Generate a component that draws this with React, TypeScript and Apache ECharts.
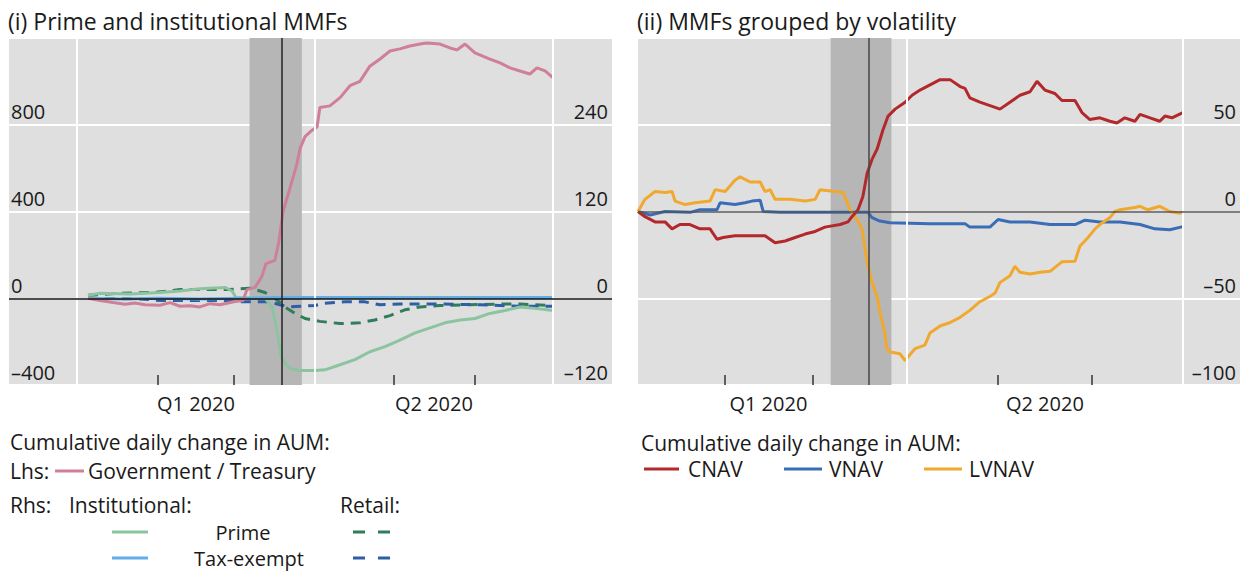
import React, { useEffect, useRef } from "react";
import * as echarts from "echarts";

const FONT = '"Open Sans", "Noto Sans", sans-serif';
const TEXT = "#1a1a1a";

// x positions are days counted from 1 January 2020
const monthStartDays = [0, 31, 60, 91, 121, 152, 182];
const quarterStartDays = [0, 91, 182];
const quarterMidDays = [45.5, 136.5];
const quarterLabels = ["Q1 2020", "Q2 2020"];
const stressWindow = [66, 86];
const stressMarkerDay = 78.4;

// ---- Panel (i): Prime and institutional MMFs ----
// Lhs: Government / Treasury
const govDays = [4.2, 8.8, 13.8, 18.4, 22.2, 26.0, 31.7, 35.6, 39.4, 43.2, 47.0, 50.9, 54.7, 60.4, 63.5, 65.0, 68.1, 70.7, 72.3, 75.7, 77.2, 78.8, 81.5, 84.1, 85.3, 87.2, 89.9, 91.8, 92.9, 96.7, 100.6, 104.4, 108.2, 112.0, 115.9, 119.7, 123.5, 127.3, 131.2, 133.8, 138.8, 142.6, 145.3, 148.4, 152.2, 157.9, 161.8, 165.6, 169.4, 173.2, 175.9, 179.0, 182.1];
const govVals = [0, -10, -20, -28, -22, -30, -32, -20, -37, -35, -40, -25, -30, -15, -10, 40, 50, 100, 160, 175, 260, 400, 510, 620, 690, 745, 775, 790, 880, 887, 925, 980, 1000, 1070, 1103, 1140, 1150, 1163, 1172, 1177, 1172, 1154, 1145, 1172, 1131, 1103, 1085, 1062, 1048, 1034, 1062, 1048, 1016];
// Rhs: Institutional prime
const instPrimeDays = [4.2, 8.8, 20.3, 31.7, 39.4, 47.0, 56.6, 59.3, 60.8, 66.2, 71.9, 74.6, 75.7, 76.9, 78.0, 79.5, 81.5, 85.3, 91.0, 94.8, 100.6, 106.3, 112.0, 117.8, 123.5, 129.3, 135.0, 140.7, 146.5, 152.2, 157.9, 163.7, 169.4, 175.1, 182.1];
const instPrimeVals = [4, 7, 6, 8, 10, 13, 15, 10, 1, 0, 0, -12, -30, -54, -81, -90, -97, -100, -100, -99, -92, -85, -74, -67, -58, -48, -41, -34, -30, -28, -21, -17, -12, -14, -17];
// Rhs: Retail prime
const retPrimeDays = [4.2, 16.4, 29.8, 39.4, 57.9, 66.2, 71.9, 75.7, 79.5, 83.4, 87.2, 92.9, 100.6, 108.2, 113.9, 119.7, 125.4, 131.2, 138.8, 150.3, 161.8, 169.4, 182.1];
const retPrimeVals = [4, 7, 8, 12, 12, 14, 8, 0, -12, -21, -28, -32, -35, -34, -30, -24, -16, -12, -10, -9, -8, -8, -10];
// Rhs: Institutional tax-exempt
const instTaxDays = [4.2, 16.4, 31.7, 47.0, 62.3, 77.6, 92.9, 123.5, 157.6, 182.1];
const instTaxVals = [0, -1, 0, -1, 0, 1, 1, 1, 1, 1];
// Rhs: Retail tax-exempt
const retTaxDays = [4.2, 24.1, 31.7, 58.5, 62.3, 73.8, 77.6, 81.5, 85.3, 91.0, 94.8, 102.5, 110.1, 115.9, 123.5, 138.8, 154.1, 169.4, 182.1];
const retTaxVals = [0, -1, -3, -3, -5, -5, -9, -12, -11, -10, -7, -5, -5, -9, -8, -8, -9, -11, -11];

// ---- Panel (ii): MMFs grouped by volatility ----
const cnavDays = [2.6, 4.9, 8.2, 11.5, 13.8, 16.4, 19.7, 23.0, 26.3, 28.6, 30.6, 34.5, 44.4, 47.7, 51.0, 54.3, 57.6, 60.9, 64.1, 69.1, 71.7, 73.0, 75.0, 76.6, 78.0, 79.6, 81.3, 83.2, 84.9, 87.2, 90.5, 92.8, 95.4, 98.7, 102.0, 105.3, 108.6, 110.2, 111.8, 115.1, 120.1, 121.7, 125.0, 128.3, 131.6, 133.9, 136.5, 139.8, 142.1, 146.4, 148.7, 151.3, 154.6, 157.9, 160.2, 162.8, 166.1, 167.8, 171.1, 174.3, 176.0, 178.3, 181.9];
const cnavVals = [0, -3, -6, -6, -10, -7.5, -7.5, -10, -10, -16, -15, -14, -14, -18, -17, -15, -13, -11.5, -9, -7.5, -6, -3, 1, 8.6, 22, 30, 36, 47, 55, 59, 63, 67, 70, 73, 76, 76, 72, 71, 65.5, 63, 60, 59, 63, 67, 69, 75, 70, 68, 64, 64, 57, 53, 54, 52, 51, 54, 52, 56, 54, 52, 55, 54, 57];
const vnavDays = [2.6, 6.6, 11.5, 19.7, 23.0, 28.6, 29.6, 34.5, 37.8, 40.1, 42.8, 43.8, 49.3, 55.9, 72.4, 78.3, 79.6, 82.2, 85.5, 98.7, 110.2, 111.8, 118.4, 121.1, 125.0, 131.6, 138.2, 146.4, 149.7, 154.6, 161.2, 167.8, 172.7, 177.6, 181.9];
const vnavVals = [0, -2, 0, -0.5, 1, 1, 5, 4, 5, 6, 6.5, 0, -0.5, -0.5, -0.5, -0.5, -3.5, -5.5, -6.5, -7, -7, -9, -9, -4.6, -6, -6, -7.5, -7.5, -5, -6, -6, -7.5, -10, -10.5, -8.7];
const lvnavDays = [2.6, 4.9, 8.2, 11.5, 13.8, 14.8, 18.1, 21.4, 26.3, 28.0, 31.3, 34.5, 36.2, 39.5, 42.8, 44.4, 46.1, 47.7, 52.6, 57.6, 60.9, 62.5, 67.4, 70.1, 72.4, 75.0, 76.3, 78.0, 79.6, 81.3, 82.2, 83.6, 84.5, 85.5, 88.8, 90.5, 91.4, 93.8, 97.0, 98.7, 102.0, 105.3, 108.6, 111.8, 115.1, 118.4, 120.1, 121.7, 125.0, 126.6, 128.3, 131.6, 134.9, 138.2, 142.1, 146.4, 148.0, 150.7, 153.0, 154.6, 157.9, 159.5, 161.2, 166.1, 167.8, 170.4, 174.3, 177.6, 181.0, 181.9];
const lvnavVals = [0, 7, 11.5, 11, 11.5, 6, 4, 5, 6, 12.6, 11.5, 18, 20, 17, 17, 11.5, 12.6, 7, 7, 6, 7, 12.6, 11.5, 11, 1, -5.7, -10, -29, -41, -49, -58, -68, -79, -81, -82, -86, -84, -79, -77, -70, -66, -64, -61, -57, -52, -49, -47, -41, -37, -31.6, -35, -36, -35, -34.5, -29, -28.7, -20, -15, -10, -7.5, -3.5, 0, 1, 2.3, 3, 1, 3, 0, -1, 0];

const zip = (xs: number[], ys: number[]) => xs.map((x, i) => [x, ys[i]]);
const dashLabel = (v: number) => (v < 0 ? "\u2013" + Math.abs(v) : String(v));

const panels = [
  { grid: 0, xMin: -26, xMax: 204.6 },
  { grid: 1, xMin: 2.6, xMax: 200.7 },
];

function App() {
  const ref = useRef<HTMLDivElement>(null);
  useEffect(() => {
    if (!ref.current) return;
    const chart = echarts.init(ref.current, null, { renderer: "svg" });

    const xAxes: any[] = [];
    panels.forEach((p) => {
      const inRange = (v: number) => v >= p.xMin && v <= p.xMax;
      xAxes.push({
        type: "value",
        gridIndex: p.grid,
        min: p.xMin,
        max: p.xMax,
        position: "bottom",
        axisLine: { show: false, onZero: false },
        splitLine: { show: false },
        axisTick: {
          show: true,
          inside: true,
          length: 10,
          customValues: monthStartDays.filter(inRange),
          lineStyle: { color: "#333", width: 1.5 },
        },
        axisLabel: {
          show: true,
          customValues: quarterMidDays,
          formatter: (v: number) => {
            const i = quarterMidDays.indexOf(v);
            return i >= 0 ? quarterLabels[i] : "";
          },
          margin: 8,
          fontSize: 20,
          fontFamily: FONT,
          color: TEXT,
        },
      });
      xAxes.push({
        type: "value",
        gridIndex: p.grid,
        min: p.xMin,
        max: p.xMax,
        position: "bottom",
        axisLine: { show: false, onZero: false },
        splitLine: { show: false },
        axisTick: {
          show: true,
          inside: true,
          length: 22,
          customValues: quarterStartDays.filter(inRange),
          lineStyle: { color: "#333", width: 1.5 },
        },
        axisLabel: { show: false },
      });
    });

    const yLabel = (margin: number) => ({
      inside: true,
      margin,
      verticalAlign: "bottom",
      padding: [0, 0, 3, 0],
      showMaxLabel: false,
      fontSize: 20,
      fontFamily: FONT,
      color: TEXT,
      formatter: dashLabel,
    });

    const yAxes = [
      {
        type: "value", gridIndex: 0, position: "left", min: -400, max: 1200, interval: 400,
        axisLine: { show: false }, axisTick: { show: false },
        splitLine: { show: true, lineStyle: { color: "#ffffff", width: 2 } },
        axisLabel: yLabel(2),
      },
      {
        type: "value", gridIndex: 0, position: "right", min: -120, max: 360, interval: 120,
        axisLine: { show: false }, axisTick: { show: false },
        splitLine: { show: false },
        axisLabel: yLabel(4),
      },
      {
        type: "value", gridIndex: 1, position: "right", min: -100, max: 100, interval: 50,
        axisLine: { show: false }, axisTick: { show: false },
        splitLine: { show: true, lineStyle: { color: "#ffffff", width: 2 } },
        axisLabel: yLabel(4),
      },
    ];

    const decor = (xAxisIndex: number, yAxisIndex: number, gridLines: number[], zeroColor: string, markerColor: string) => [
      {
        type: "line", xAxisIndex, yAxisIndex, data: [], z: 1, silent: true,
        markArea: {
          silent: true,
          itemStyle: { color: "#b6b6b6", opacity: 1 },
          data: [[{ xAxis: stressWindow[0] }, { xAxis: stressWindow[1] }]],
        },
        markLine: {
          silent: true, symbol: "none", label: { show: false },
          lineStyle: { color: "#ffffff", width: 2, type: "solid" },
          data: gridLines.map((d) => ({ xAxis: d })),
        },
      },
      {
        type: "line", xAxisIndex, yAxisIndex, data: [], z: 2, silent: true,
        markLine: {
          silent: true, symbol: "none", label: { show: false },
          data: [
            { yAxis: 0, lineStyle: { color: zeroColor, width: 1.5, type: "solid" } },
            { xAxis: stressMarkerDay, lineStyle: { color: markerColor, width: 1.5, type: "solid" } },
          ],
        },
      },
    ];

    const line = (name: string, xAxisIndex: number, yAxisIndex: number, days: number[], vals: number[], color: string, dashed = false) => ({
      name, type: "line", xAxisIndex, yAxisIndex, z: 3,
      data: zip(days, vals),
      showSymbol: false, symbol: "none",
      lineStyle: { color, width: 3, type: dashed ? [10, 7] : "solid" },
      emphasis: { disabled: true },
    });

    const series = [
      ...decor(0, 0, quarterStartDays, "#111111", "#222222"),
      line("Retail prime", 0, 1, retPrimeDays, retPrimeVals, "#2f7d5a", true),
      line("Retail tax-exempt", 0, 1, retTaxDays, retTaxVals, "#2d5ea6", true),
      line("Institutional prime", 0, 1, instPrimeDays, instPrimeVals, "#8cc4a0"),
      line("Institutional tax-exempt", 0, 1, instTaxDays, instTaxVals, "#62aee8"),
      line("Government / Treasury", 0, 0, govDays, govVals, "#cf7f96"),
      ...decor(2, 2, [91, 182], "#555555", "#444444"),
      line("VNAV", 2, 2, vnavDays, vnavVals, "#3a6db5"),
      line("LVNAV", 2, 2, lvnavDays, lvnavVals, "#f0a92e"),
      line("CNAV", 2, 2, cnavDays, cnavVals, "#b3282b"),
    ];

    const txt = (text: string, x: number, y: number, extra: any = {}) => ({
      type: "text", x, y, silent: true,
      style: { text, fontSize: 21, lineHeight: 22, fontFamily: FONT, fill: TEXT, verticalAlign: "middle", align: "left", ...extra },
    });
    const seg = (x1: number, x2: number, y: number, stroke: string, dash?: number[]) => ({
      type: "line", silent: true,
      shape: { x1, y1: y, x2, y2: y },
      style: { stroke, lineWidth: 3, lineDash: dash || null },
    });

    const graphic = [
      txt("(i) Prime and institutional MMFs", 8, 21, { fontSize: 23, lineHeight: 26 }),
      txt("(ii) MMFs grouped by volatility", 637, 21, { fontSize: 23, lineHeight: 26 }),
      txt("Cumulative daily change in AUM:", 10, 442),
      txt("Lhs:", 10, 471),
      seg(55, 84, 471, "#cf7f96"),
      txt("Government / Treasury", 88, 471),
      txt("Rhs:", 10, 505),
      txt("Institutional:", 69, 505),
      txt("Retail:", 340, 505),
      seg(112, 148, 532, "#8cc4a0"),
      txt("Prime", 243, 532, { align: "center", fontSize: 20, lineHeight: 21 }),
      seg(353, 390, 532, "#2f7d5a", [12, 13]),
      seg(112, 148, 558, "#62aee8"),
      txt("Tax-exempt", 249, 558, { align: "center", fontSize: 20, lineHeight: 21 }),
      seg(353, 390, 558, "#2d5ea6", [12, 13]),
      txt("Cumulative daily change in AUM:", 641, 443),
      seg(644, 679, 469, "#b3282b"),
      txt("CNAV", 688, 469),
      seg(784, 822, 469, "#3a6db5"),
      txt("VNAV", 829, 469),
      seg(924, 962, 469, "#f0a92e"),
      txt("LVNAV", 969, 469),
    ];

    chart.setOption({
      animation: false,
      backgroundColor: "#ffffff",
      textStyle: { fontFamily: FONT },
      grid: [
        { left: 9, top: 38, width: 603, height: 347, show: true, backgroundColor: "#dfdfdf", borderWidth: 0 },
        { left: 638, top: 38, width: 602, height: 347, show: true, backgroundColor: "#dfdfdf", borderWidth: 0 },
      ],
      xAxis: xAxes,
      yAxis: yAxes,
      series,
      graphic,
    });
    return () => chart.dispose();
  }, []);
  return <div ref={ref} style={{ position: "absolute", left: 0, top: 0, width: 1246, height: 571 }} />;
}

export default App;
